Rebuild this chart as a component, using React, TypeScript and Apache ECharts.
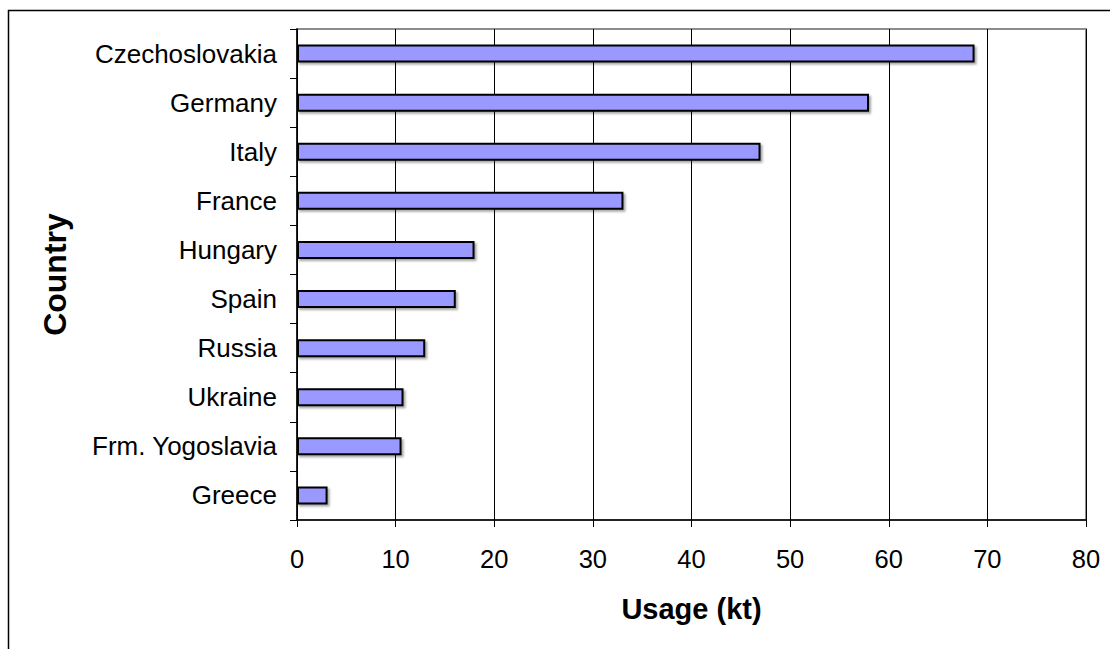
import React, { useEffect, useRef } from "react";
import * as echarts from "echarts";

const countries = [
  "Czechoslovakia",
  "Germany",
  "Italy",
  "France",
  "Hungary",
  "Spain",
  "Russia",
  "Ukraine",
  "Frm. Yogoslavia",
  "Greece",
];
const usage = [68.7, 58.0, 47.0, 33.1, 18.0, 16.1, 13.0, 10.8, 10.6, 3.1];
const xTitle = "Usage (kt)";
const yTitle = "Country";

const FONT = "'Liberation Sans', Arial, Helvetica, sans-serif";

export default function App() {
  const ref = useRef<HTMLDivElement>(null);
  useEffect(() => {
    document.body.style.margin = "0";
    if (!ref.current) return;
    const chart = echarts.init(ref.current, undefined, { renderer: "svg" });
    chart.setOption({
      animation: false,
      backgroundColor: "#ffffff",
      textStyle: { fontFamily: FONT },
      graphic: [
        {
          type: "rect",
          shape: { x: 8.5, y: 10.5, width: 1300, height: 800 },
          style: { fill: "none", stroke: "#000000", lineWidth: 1.5 },
          silent: true,
          z: -10,
        },
      ],
      grid: {
        left: 297,
        top: 29,
        right: 24,
        bottom: 129,
        show: true,
        borderColor: "#8c8c8c",
        borderWidth: 2,
        backgroundColor: "transparent",
      },
      xAxis: {
        type: "value",
        min: 0,
        max: 80,
        interval: 10,
        name: xTitle,
        nameLocation: "middle",
        nameGap: 74,
        nameTextStyle: {
          fontFamily: FONT,
          fontSize: 29,
          fontWeight: "bold",
          color: "#000000",
        },
        axisLine: { show: true, lineStyle: { color: "#000000", width: 1.5 } },
        axisTick: { show: true, length: 7, lineStyle: { color: "#000000", width: 1 } },
        axisLabel: {
          fontFamily: FONT,
          fontSize: 25.5,
          color: "#000000",
          margin: 26,
        },
        splitLine: { show: true, lineStyle: { color: "#000000", width: 1 } },
      },
      yAxis: {
        type: "category",
        data: countries,
        inverse: true,
        name: yTitle,
        nameLocation: "middle",
        nameRotate: 90,
        nameGap: 226,
        nameTextStyle: {
          fontFamily: FONT,
          fontSize: 32,
          fontWeight: "bold",
          color: "#000000",
        },
        axisLine: { show: true, lineStyle: { color: "#000000", width: 1.5 } },
        axisTick: {
          show: true,
          length: 7,
          alignWithLabel: false,
          lineStyle: { color: "#000000", width: 1 },
        },
        axisLabel: {
          fontFamily: FONT,
          fontSize: 26,
          color: "#000000",
          margin: 20,
        },
        splitLine: { show: false },
      },
      series: [
        {
          type: "bar",
          data: usage,
          barWidth: 18,
          itemStyle: {
            color: "#9999ff",
            borderColor: "#000000",
            borderWidth: 2,
            shadowColor: "rgba(0,0,0,0.35)",
            shadowBlur: 2,
            shadowOffsetX: 2,
            shadowOffsetY: 2,
          },
          emphasis: { disabled: true },
        },
      ],
    });
    return () => chart.dispose();
  }, []);
  return <div ref={ref} style={{ width: 1110, height: 649 }} />;
}
